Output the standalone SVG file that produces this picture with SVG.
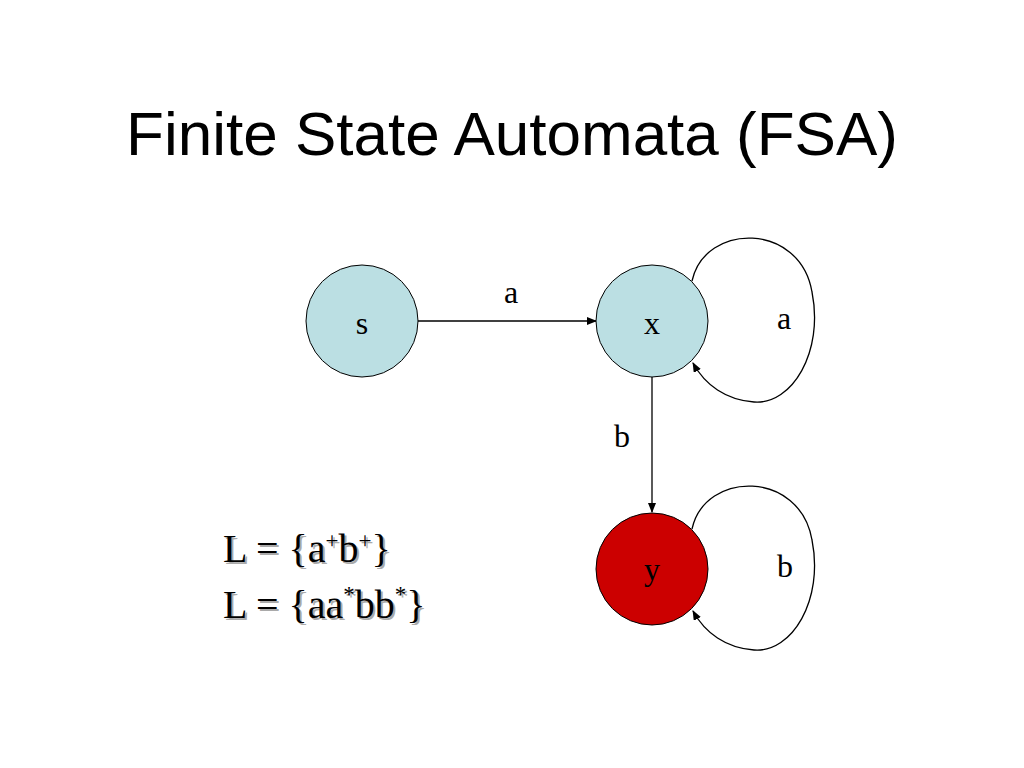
<svg xmlns="http://www.w3.org/2000/svg" width="1024" height="768" viewBox="0 0 1024 768">
<style>
.node{stroke:#000;stroke-width:1}
.lbl{font-family:"Liberation Serif","Times New Roman",serif;font-size:32px;fill:#000;text-anchor:middle}
.edge{fill:none;stroke:#000;stroke-width:1.3}
.lang{font-family:"Liberation Serif","Times New Roman",serif;font-size:40px}
</style>
<defs>
<marker id="arr" markerWidth="10" markerHeight="8" refX="9" refY="4" orient="auto" markerUnits="userSpaceOnUse">
<path d="M0,0 L10,4 L0,8 Z" fill="#000"/>
</marker>
</defs>
<rect width="1024" height="768" fill="#fff"/>
<text x="512" y="155" font-family="Liberation Sans, Arial, sans-serif" font-size="62" text-anchor="middle" fill="#000">Finite State Automata (FSA)</text>
<g id="edges">
<line class="edge" x1="418" y1="321" x2="596" y2="321" marker-end="url(#arr)"/>
<line class="edge" x1="652" y1="377" x2="652" y2="512" marker-end="url(#arr)"/>
<path class="edge" d="M692,281 C705,222 800,222 812,292 C824,352 792,405 754,402 C726,400 705,385 693,363" marker-end="url(#arr)"/>
<path class="edge" d="M692,529 C705,470 800,470 812,540 C824,600 792,653 754,650 C726,648 705,633 693,611" marker-end="url(#arr)"/>
<text class="lbl" x="511" y="303">a</text>
<text class="lbl" x="784" y="329">a</text>
<text class="lbl" x="622" y="447">b</text>
<text class="lbl" x="785" y="577">b</text>
</g>
<g id="node-s">
<circle class="node" cx="362" cy="321" r="56" fill="#bbdfe3"/>
<text class="lbl" x="362" y="334">s</text>
</g>
<g id="node-x">
<circle class="node" cx="652" cy="321" r="56" fill="#bbdfe3"/>
<text class="lbl" x="652" y="334">x</text>
</g>
<g id="node-y">
<circle class="node" cx="652" cy="569" r="56" fill="#cc0000"/>
<text class="lbl" x="652" y="580">y</text>
</g>
<g id="language">
<text class="lang" x="225" y="564" fill="#aaaaaa">L = {a<tspan font-size="23" dy="-14">+</tspan><tspan dy="14">b</tspan><tspan font-size="23" dy="-14">+</tspan><tspan dy="14">}</tspan></text>
<text class="lang" x="223" y="562" fill="#000">L = {a<tspan font-size="23" dy="-14">+</tspan><tspan dy="14">b</tspan><tspan font-size="23" dy="-14">+</tspan><tspan dy="14">}</tspan></text>
<text class="lang" x="225" y="620" fill="#aaaaaa">L = {aa<tspan font-size="23" dy="-16">*</tspan><tspan dy="16">bb</tspan><tspan font-size="23" dy="-16">*</tspan><tspan dy="16">}</tspan></text>
<text class="lang" x="223" y="618" fill="#000">L = {aa<tspan font-size="23" dy="-16">*</tspan><tspan dy="16">bb</tspan><tspan font-size="23" dy="-16">*</tspan><tspan dy="16">}</tspan></text>
</g>
</svg>
